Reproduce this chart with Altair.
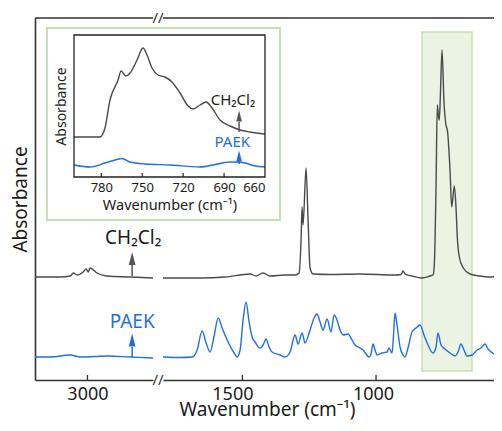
import altair as alt
import pandas as pd

FONT = "Noto Sans"
DARK = "#4a4a4a"
TXT = "#1a1a1a"
BLUE = "#1f6fe0"
AXIS = "#333333"
GFILL = "#ebf3e3"
GSTROKE = "#c6e0b4"

# ---------------- main spectra: wavenumber (cm-1) / absorbance (offset, a.u.) -------------
# high-wavenumber segment (left of the axis break)
ch_hi_wn = [3196, 3102, 3064, 3053, 3038, 3016, 3005, 2997, 2990, 2964, 2926, 2840, 2755]
ch_hi_abs = [103, 103, 104, 107, 105, 108, 111, 108, 112, 107, 104, 103, 102]
pk_hi_wn = [3196, 3139, 3064, 3027, 2971, 2922, 2840, 2755]
pk_hi_abs = [23, 23, 25, 23, 23.5, 24, 23, 22]

# fingerprint segment (right of the axis break)
ch_lo_wn = [1797, 1658, 1565, 1471, 1449, 1423, 1396, 1340, 1303, 1288, 1280.5, 1276.7,
            1273, 1261.8, 1254.3, 1246.8, 1235.6, 1172, 1060, 929, 906.5, 899, 891.6,
            865.4, 827.9, 798, 786.8, 782, 775.6, 770.8, 767, 763.3, 759.5, 753.2, 745.7,
            739.4, 731.9, 723.3, 716.9, 707.2, 700.9, 696, 688.5, 673.6, 648.5, 611.1,
            573.7, 536]
ch_lo_abs = [102, 102, 103, 106, 104, 107, 104, 105, 105, 107, 140, 173,
             155, 212, 160, 112, 106, 105.5, 106, 105, 105.5, 109, 106,
             104, 102, 104, 105, 115, 193, 275, 265, 260, 283, 330, 277,
             257, 247, 210, 173, 194, 173, 143, 123, 112, 106, 104,
             103, 104]
pk_lo_wn = [1797, 1733, 1688, 1669.4, 1650.7, 1635.7, 1620.8, 1605.8, 1590.8, 1575.9,
            1553.4, 1531, 1519.8, 1508.6, 1497.4, 1486.2, 1474.9, 1463.7, 1452.5, 1433.8,
            1422.6, 1411.4, 1400.2, 1388.9, 1359, 1340.3, 1321.6, 1302.9, 1291.7, 1276.7,
            1265.5, 1246.8, 1231.9, 1220.6, 1209.4, 1198.2, 1183.2, 1168.3, 1157.1, 1145.9,
            1134.6, 1123.4, 1104.7, 1089.8, 1078.5, 1059.8, 1048.6, 1037.4, 1026.2, 1018.7,
            1011.2, 1003.7, 996.3, 977.6, 958.9, 951.4, 940.2, 934.6, 928.9, 921.5,
            910.2, 899, 891.6, 880.4, 865.4, 850.4, 835.5, 820.5, 805.5, 786.8,
            775.6, 768.1, 756.9, 741.9, 723.3, 704.6, 693.3, 682.1, 670.9, 659.7,
            641, 622.3, 607.3, 592.4, 581.2, 573.7, 558.7, 547.5, 536]
pk_lo_abs = [23, 22.5, 23, 30, 49, 37, 28, 44, 62, 52,
             38, 27, 23, 30, 60, 78, 58, 43, 38, 32,
             35, 41, 33, 28, 25, 23, 28, 45, 36, 47,
             37, 50, 62, 66, 58, 50, 61, 48, 65, 60,
             50, 45, 46, 40, 35, 32, 30, 26, 23, 26,
             36, 30, 25, 27, 28, 32, 27, 45, 67, 55,
             33, 25, 23, 32, 48, 52, 55, 45, 35, 27,
             33, 47, 35, 31, 27, 24, 28, 36, 30, 24,
             25, 30, 32, 36, 31, 29, 26, 25, 33]

# highlighted region (wavenumber span, absorbance span)
hl_wn = [827.9, 641.0]
hl_abs = [9, 348]

# labels and arrows in the main plot
lab_text = ["CH\u2082Cl\u2082", "PAEK"]
lab_wn = [2829, 2833]
lab_abs = [142, 58]
arr_wn = [2833, 2833]
arr_base = [104, 23]
arr_head = [115, 33]
arr_tip = [128, 47]

hi_ticks = [3000]
lo_ticks = [1500, 1000]

# ---------------- inset spectra ----------------
in_ch_wn = [800, 781, 777.3, 773.6, 767.7, 765.5, 761.9, 758.9, 753.8, 749.4, 746.5, 742.8,
            738.4, 733.3, 728.2, 722.3, 716.4, 712.8, 707.6, 703.2, 698.8, 693, 685.6,
            678.3, 671, 660]
in_ch_abs = [40, 40, 49, 77, 97, 106, 101, 104, 117, 129, 122, 109,
             102, 100, 95, 84, 71, 68, 72, 75, 69, 57, 51,
             47, 45, 43]
in_pk_wn = [800, 788.3, 777.3, 769.9, 764.8, 758.9, 748, 729.6, 707.6, 696.6, 685.6, 680.5,
            674.6, 667.3, 660]
in_pk_abs = [12, 10, 14, 17, 18.5, 15, 13, 12, 10, 12.5, 15, 15, 14, 11, 10]
in_ticks = [780, 750, 720, 690, 660]
in_lab_wn = [683.5, 684]
in_lab_abs = [77, 35]
in_arr_wn = [679, 679]
in_arr_base = [45, 13]
in_arr_head = [55, 16]
in_arr_tip = [67, 26]

# ---------------- layout (pixels inside the plot area) ----------------
W, H = 459, 362
LEFT_RANGE = [0, 118]        # high-wavenumber segment
RIGHT_RANGE = [128, 459]     # fingerprint segment
left_dom = [3196, 2755]
right_dom = [1797, 558.7]
y_dom = [0, 362]
INSET_X = [39, 230]
INSET_Y = [159, 17]

NAMES = ["CH\u2082Cl\u2082", "PAEK"]
LINECOL = [DARK, BLUE]
TEXTCOL = [TXT, BLUE]
ARRCOL = ["#555555", BLUE]


def spec(wn, ab, name):
    return pd.DataFrame({"wn": wn, "absb": ab, "series": name})


color = alt.Color("series:N", scale=alt.Scale(domain=NAMES, range=LINECOL), legend=None)
ARROW = "M0,-1L0.52,1L-0.52,1Z"
one = pd.DataFrame({"a": [0]})


def decorations(xscale, xaxis, yscale, yaxis, lw, la, aw, ab, ah, at, fs, head_size):
    lab = pd.DataFrame({"wn": lw, "absb": la, "t": lab_text, "c": TEXTCOL})
    arr = pd.DataFrame({"wn": aw, "b": ab, "h": ah,
                        "m": [(h + t) / 2 for h, t in zip(ah, at)], "c": ARRCOL})
    text = alt.Chart(lab).mark_text(font=FONT, fontSize=fs).encode(
        x=alt.X("wn:Q", scale=xscale, axis=xaxis),
        y=alt.Y("absb:Q", scale=yscale, axis=yaxis),
        text="t:N", color=alt.Color("c:N", scale=None))
    shaft = alt.Chart(arr).mark_rule(strokeWidth=1.5).encode(
        x=alt.X("wn:Q", scale=xscale, axis=xaxis),
        y=alt.Y("b:Q", scale=yscale, axis=yaxis), y2="h:Q",
        color=alt.Color("c:N", scale=None))
    head = alt.Chart(arr).mark_point(shape=ARROW, filled=True, opacity=1, size=head_size).encode(
        x=alt.X("wn:Q", scale=xscale, axis=xaxis),
        y=alt.Y("m:Q", scale=yscale, axis=yaxis),
        color=alt.Color("c:N", scale=None))
    return [text, shaft, head]


# ---------------- left segment ----------------
xl = alt.Scale(domain=left_dom, range=LEFT_RANGE, nice=False, zero=False)
yl = alt.Scale(domain=y_dom, nice=False, zero=False)
xl_axis = alt.Axis(orient="bottom", values=hi_ticks, format="d", ticks=False, grid=False,
                   title=None, labelFontSize=18, labelPadding=5)
yl_axis = alt.Axis(orient="left", labels=False, ticks=False, grid=False, title="Absorbance",
                   titleFontSize=19, titlePadding=5)
left_df = pd.concat([spec(ch_hi_wn, ch_hi_abs, NAMES[0]), spec(pk_hi_wn, pk_hi_abs, NAMES[1])])
left_lines = alt.Chart(left_df).mark_line(strokeWidth=1.4, interpolate="monotone").encode(
    x=alt.X("wn:Q", scale=xl, axis=xl_axis),
    y=alt.Y("absb:Q", scale=yl, axis=yl_axis),
    color=color, detail="series:N")
left_ticks = alt.Chart(pd.DataFrame({"wn": hi_ticks})).mark_rule(color=AXIS, strokeWidth=1.3).encode(
    x=alt.X("wn:Q", scale=xl, axis=xl_axis), y=alt.value(H), y2=alt.value(H - 5))
left_top = alt.Chart(one).mark_rule(color=AXIS, strokeWidth=1.6).encode(
    x=alt.value(LEFT_RANGE[0]), x2=alt.value(LEFT_RANGE[1]), y=alt.value(0))
left = alt.layer(left_lines, left_ticks, left_top,
                 *decorations(xl, xl_axis, yl, yl_axis, lab_wn, lab_abs, arr_wn, arr_base,
                              arr_head, arr_tip, 19, 169))

# ---------------- right segment ----------------
xr = alt.Scale(domain=right_dom, range=RIGHT_RANGE, nice=False, zero=False)
yr = alt.Scale(domain=y_dom, nice=False, zero=False)
xr_axis = alt.Axis(orient="bottom", values=lo_ticks, format="d", ticks=False, grid=False,
                   title="Wavenumber (cm\u207b\u00b9)", labelFontSize=18, labelPadding=5,
                   titleFontSize=19, titleX=232, titleY=20, titleBaseline="top",
                   titleAlign="center",
                   labelOffset={"condition": {"test": "datum.value == 1500", "value": -10},
                                "value": -3})
right_df = pd.concat([spec(ch_lo_wn, ch_lo_abs, NAMES[0]), spec(pk_lo_wn, pk_lo_abs, NAMES[1])])
hl = alt.Chart(pd.DataFrame({"w1": [hl_wn[0]], "w2": [hl_wn[1]], "a1": [hl_abs[0]], "a2": [hl_abs[1]]})
               ).mark_rect(fill=GFILL, stroke=GSTROKE, strokeWidth=1.5).encode(
    x=alt.X("w1:Q", scale=xr, axis=xr_axis), x2="w2:Q",
    y=alt.Y("a1:Q", scale=yr, axis=None), y2="a2:Q")
right_lines = alt.Chart(right_df).mark_line(strokeWidth=1.4, interpolate="monotone",
                                            clip=True).encode(
    x=alt.X("wn:Q", scale=xr, axis=xr_axis),
    y=alt.Y("absb:Q", scale=yr, axis=None),
    color=color, detail="series:N")
right_ticks = alt.Chart(pd.DataFrame({"wn": lo_ticks})).mark_rule(color=AXIS, strokeWidth=1.3).encode(
    x=alt.X("wn:Q", scale=xr, axis=xr_axis), y=alt.value(H), y2=alt.value(H - 5))
right_top = alt.Chart(one).mark_rule(color=AXIS, strokeWidth=1.6).encode(
    x=alt.value(RIGHT_RANGE[0]), x2=alt.value(RIGHT_RANGE[1]), y=alt.value(0))
gap_mid = (LEFT_RANGE[1] + RIGHT_RANGE[0]) / 2
brk_top = alt.Chart(one).mark_text(text="//", font=FONT, fontSize=15, color=AXIS,
                                   baseline="middle").encode(x=alt.value(gap_mid), y=alt.value(0))
brk_bot = alt.Chart(one).mark_text(text="//", font=FONT, fontSize=15, color=AXIS,
                                   baseline="middle").encode(x=alt.value(gap_mid), y=alt.value(H))
right = alt.layer(hl, right_lines, right_ticks, right_top, brk_top, brk_bot)

# ---------------- inset ----------------
xi = alt.Scale(domain=[800, 660], range=INSET_X, nice=False, zero=False)
yi = alt.Scale(domain=[0, 142], range=INSET_Y, nice=False, zero=False)
xi_axis = alt.Axis(orient="bottom", offset=INSET_Y[0] - H, values=in_ticks, ticks=False,
                   domain=False, grid=False, labelFontSize=13, labelPadding=4,
                   title="Wavenumber (cm\u207b\u00b9)", titleFontSize=14.5, titlePadding=4, zindex=1)
yi_axis = alt.Axis(orient="left", offset=-INSET_X[0], labels=False, ticks=False, domain=False,
                   grid=False, title="Absorbance", titleFontSize=14, titlePadding=6, zindex=1)
in_df = pd.concat([spec(in_ch_wn, in_ch_abs, NAMES[0]), spec(in_pk_wn, in_pk_abs, NAMES[1])])
in_frame = alt.Chart(one).mark_rect(fill="white", stroke=GSTROKE, strokeWidth=2).encode(
    x=alt.value(12), x2=alt.value(245), y=alt.value(10), y2=alt.value(202))
in_lines = alt.Chart(in_df).mark_line(strokeWidth=1.4, interpolate="monotone").encode(
    x=alt.X("wn:Q", scale=xi, axis=xi_axis),
    y=alt.Y("absb:Q", scale=yi, axis=yi_axis),
    color=color, detail="series:N")
in_box = alt.Chart(pd.DataFrame({"w1": [800], "w2": [660], "a1": [0], "a2": [142]})).mark_rect(
    fillOpacity=0, stroke="#222222", strokeWidth=1.3).encode(
    x=alt.X("w1:Q", scale=xi, axis=xi_axis), x2="w2:Q",
    y=alt.Y("a1:Q", scale=yi, axis=yi_axis), y2="a2:Q")
in_tk = alt.Chart(pd.DataFrame({"wn": in_ticks[:-1]})).mark_rule(color="#222222", strokeWidth=1.2).encode(
    x=alt.X("wn:Q", scale=xi, axis=xi_axis), y=alt.value(INSET_Y[0]), y2=alt.value(INSET_Y[0] - 4))
inset = alt.layer(in_frame, in_lines, in_box, in_tk,
                  *decorations(xi, xi_axis, yi, yi_axis, in_lab_wn, in_lab_abs, in_arr_wn,
                               in_arr_base, in_arr_head, in_arr_tip, 15, 121))

chart = alt.layer(left, right, inset).resolve_scale(
    x="independent", y="independent"
).properties(
    width=W, height=H,
    autosize=alt.AutoSizeParams(type="none"),
    padding={"left": 27, "top": 10, "right": 0, "bottom": 43},
).configure_view(stroke=None).configure_axis(
    labelFont=FONT, titleFont=FONT, labelColor=TXT, titleColor=TXT,
    domainColor=AXIS, domainWidth=1.6, titleFontWeight="normal"
)

chart.save("out.html", embed_options={"renderer": "svg", "actions": False})
